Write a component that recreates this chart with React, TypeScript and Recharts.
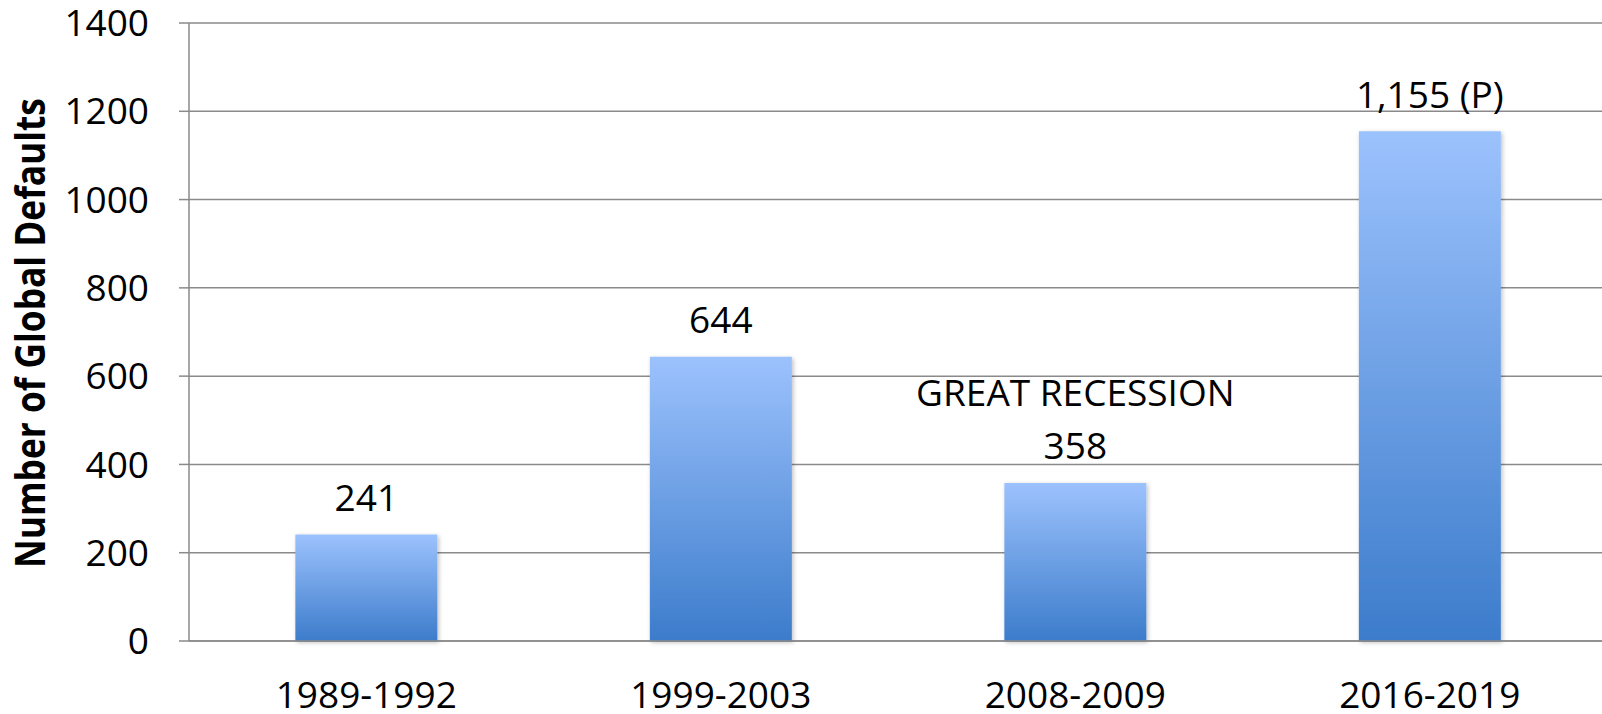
import React from 'react';
import { BarChart, Bar, XAxis, YAxis, CartesianGrid, LabelList } from 'recharts';

const periods = ['1989-1992', '1999-2003', '2008-2009', '2016-2019'];
const defaults = [241, 644, 358, 1155];
const valueLabels = ['241', '644', '358', '1,155 (P)'];
const notes = ['', '', 'GREAT RECESSION', ''];
const yTicks = [0, 200, 400, 600, 800, 1000, 1200, 1400];

const data = periods.map((period, i) => ({
  period,
  defaults: defaults[i],
  label: valueLabels[i],
}));

const FONT = '"Open Sans", sans-serif';
const GRID = '#8a8a8a';
const FS = 37;

const renderValueLabel = (props: any) => {
  const { x, y, width, index } = props;
  const cx = x + width / 2;
  const note = notes[index];
  return (
    <g>
      {note && (
        <text x={cx} y={y - 91} textAnchor="middle" dominantBaseline="central" fontFamily={FONT} fontSize={FS} fill="#000">
          {note}
        </text>
      )}
      <text x={cx} y={y - 38} textAnchor="middle" dominantBaseline="central" fontFamily={FONT} fontSize={FS} fill="#000">
        {valueLabels[index]}
      </text>
    </g>
  );
};

// condensed bold title, squeezed along its length
const renderAxisTitle = (props: any) => {
  const { viewBox } = props;
  const cy = viewBox.y + viewBox.height / 2 + 1;
  return (
    <text
      x={0}
      y={0}
      transform={`translate(45, ${cy}) rotate(-90) scale(0.84, 1)`}
      textAnchor="middle"
      fontFamily={FONT}
      fontWeight="bold"
      fontSize={42}
      fill="#000"
    >
      Number of Global Defaults
    </text>
  );
};

export default function App() {
  return (
    <div style={{ position: 'absolute', left: 0, top: 0, width: 1602, height: 714, overflow: 'hidden', background: '#fff' }}>
      <BarChart
        width={1607}
        height={714}
        data={data}
        margin={{ top: 23, right: 0, bottom: 0, left: 0 }}
        barCategoryGap="30%"
      >
        <defs>
          <linearGradient id="barFill" x1="0" y1="0" x2="0" y2="1">
            <stop offset="0%" stopColor="#9cc2fd" />
            <stop offset="100%" stopColor="#3c7ccb" />
          </linearGradient>
          <filter id="barShadow" x="-10%" y="-10%" width="120%" height="120%">
            <feDropShadow dx="1.5" dy="1.5" stdDeviation="2" floodColor="#000" floodOpacity="0.25" />
          </filter>
        </defs>
        <CartesianGrid vertical={false} stroke={GRID} strokeWidth={1.5} />
        <XAxis
          dataKey="period"
          height={73}
          tickSize={0}
          tickMargin={41}
          axisLine={{ stroke: GRID, strokeWidth: 1.5 }}
          tick={{ fontFamily: FONT, fontSize: FS, fill: '#000' }}
        />
        <YAxis
          width={189}
          domain={[0, 1400]}
          ticks={yTicks}
          interval={0}
          tickSize={10}
          tickMargin={30}
          axisLine={{ stroke: GRID, strokeWidth: 1.5 }}
          tickLine={{ stroke: GRID, strokeWidth: 1.5 }}
          tick={{ fontFamily: FONT, fontSize: FS, fill: '#000' }}
          label={{ content: renderAxisTitle }}
        />
        <Bar dataKey="defaults" fill="url(#barFill)" filter="url(#barShadow)" isAnimationActive={false}>
          <LabelList dataKey="label" content={renderValueLabel} />
        </Bar>
      </BarChart>
    </div>
  );
}
